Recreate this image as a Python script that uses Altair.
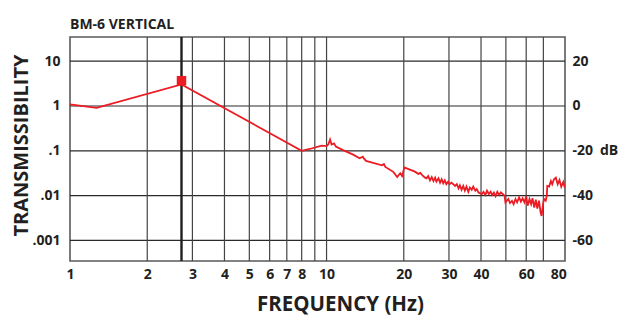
import altair as alt
import pandas as pd

# ---- data ----
freq_hz = [1.0, 1.27, 2.72, 8.0, 8.6, 9.57, 10.0, 10.15, 10.32, 10.46, 10.69, 10.87,
           11.65, 12.7, 13.45, 13.84, 14.0, 14.25, 16.45, 16.73, 16.95, 18.2, 18.85,
           19.37, 19.7, 20.1, 21.0, 22.0, 22.8, 23.2, 23.6, 24.2, 24.5, 24.9, 25.3,
           25.7, 26.1, 26.5, 26.8, 27.3, 27.7, 28.1, 28.5, 28.9, 29.3, 29.8, 30.2,
           30.7, 31.7, 32.2, 32.7, 33.1, 33.6, 34.1, 34.6, 35.1, 35.7, 36.2, 36.8,
           37.3, 38.0, 38.5, 39.1, 40.3, 40.9, 41.6, 42.2, 42.9, 43.6, 44.2, 44.9,
           45.6, 46.3, 47.1, 47.8, 48.6, 49.4, 49.8, 51.1, 51.9, 52.8, 53.6, 54.5,
           55.3, 56.3, 57.2, 58.1, 59.1, 60.0, 60.8, 61.8, 62.7, 63.5, 64.5, 65.4,
           66.3, 67.3, 68.3, 68.9, 69.8, 70.4, 71.5, 72.2, 72.5, 73.7, 74.9, 75.8,
           77.0, 78.3, 79.6, 80.9, 82.2, 83.7, 84.8]
response_db = [0.7, -0.8, 9.6, -20.0, -19.2, -17.7, -17.9, -17.2, -15.0, -17.2, -16.7, -18.1,
               -19.8, -21.7, -23.3, -22.6, -23.5, -24.5, -26.5, -25.9, -27.2, -29.4, -31.7,
               -30.0, -31.3, -27.4, -28.3, -29.2, -30.3, -29.9, -30.9, -32.0, -32.3, -31.3, -33.2,
               -31.7, -33.5, -32.0, -33.8, -32.3, -34.2, -32.7, -34.5, -33.2, -34.9, -33.8, -34.9,
               -34.2, -35.7, -34.9, -36.8, -35.4, -37.4, -35.7, -37.8, -36.0, -38.3, -36.4, -37.4,
               -36.0, -37.8, -37.1, -38.6, -39.3, -38.3, -39.7, -37.8, -39.3, -38.3, -39.7, -38.6,
               -40.3, -38.3, -39.7, -38.6, -39.3, -40.0, -43.0, -41.5, -43.3, -42.3, -43.8, -41.5,
               -43.0, -40.8, -42.7, -41.2, -43.0, -40.3, -44.5, -41.5, -43.8, -41.2, -45.3, -41.8,
               -45.8, -42.3, -47.6, -49.1, -43.8, -41.5, -42.3, -40.0, -35.7, -36.0, -33.5, -34.9,
               -32.7, -32.0, -34.9, -33.0, -36.0, -33.9, -36.4]

peak_freq = [2.72]
peak_db = [11.3]

x_label_values = [1, 2, 3, 4, 5, 6, 7, 8, 10, 20, 30, 40, 60, 80]
x_grid_values = [2, 3, 4, 5, 6, 7, 8, 9, 10, 20, 30, 40, 50, 60, 70]
db_ticks = [-60, -40, -20, 0, 20]
transmissibility_labels = [".001", ".01", ".1", "1", "10"]
db_labels = ["-60", "-40", "-20\u2002dB", "0", "20"]

X_DOMAIN = [1, 85]
Y_DOMAIN = [-69.2, 30.8]
FONT = "Open Sans"
INK = "#231f20"

curve = pd.DataFrame({"f": freq_hz, "db": response_db})
peak = pd.DataFrame({"f": peak_freq, "db": peak_db})
xgrid = pd.DataFrame({"f": x_grid_values})
ygrid = pd.DataFrame({"db": db_ticks})


def label_expr(values, labels):
    expr = "''"
    for v, l in zip(values, labels):
        expr = f"datum.value == {v} ? '{l}' : ({expr})"
    return expr


xscale = alt.Scale(type="log", domain=X_DOMAIN, nice=False)
yscale = alt.Scale(domain=Y_DOMAIN, nice=False, zero=False)

x_axis = alt.Axis(values=x_label_values, format="d", labelPadding=6,
                  title="FREQUENCY (Hz)", titleX=270, titleY=49,
                  titleAlign="center", titleBaseline="alphabetic",
                  titleFontSize=20.5)
x_enc = alt.X("f:Q", scale=xscale, axis=x_axis)

hgrid = alt.Chart(ygrid).mark_rule(color="#2a2a2a", strokeWidth=1.2).encode(
    y=alt.Y("db:Q", scale=yscale,
            axis=alt.Axis(orient="right", values=db_ticks,
                          labelExpr=label_expr(db_ticks, db_labels),
                          labelAlign="left", labelPadding=7, title=None))
)

vgrid = alt.Chart(xgrid).mark_rule(color="#444444", strokeWidth=1.2).encode(x=x_enc)

reson = alt.Chart(peak).mark_rule(color="#1e1e1e", strokeWidth=2.4).encode(x=x_enc)

line = alt.Chart(curve).mark_line(color="#ec1c24", strokeWidth=1.8).encode(
    x=x_enc,
    y=alt.Y("db:Q", scale=yscale,
            axis=alt.Axis(orient="left", values=db_ticks,
                          labelExpr=label_expr(db_ticks, transmissibility_labels),
                          labelPadding=10,
                          title="TRANSMISSIBILITY", titleX=-43, titleY=108,
                          titleAlign="center", titleBaseline="alphabetic",
                          titleAngle=270, titleFontSize=20)),
    order=alt.Order("f:Q"),
)

marker = alt.Chart(peak).mark_square(color="#ec1c24", size=90, opacity=1).encode(
    x=x_enc,
    y=alt.Y("db:Q", scale=yscale, axis=None),
)

chart = (
    alt.layer(hgrid, vgrid, reson, line, marker)
    .resolve_axis(y="independent")
    .properties(
        width=495, height=224,
        autosize=alt.AutoSizeParams(type="none"),
        padding={"left": 62, "top": 29, "right": 63, "bottom": 58},
        title=alt.TitleParams("BM-6 VERTICAL", anchor="start", frame="group",
                              fontSize=14, font=FONT, fontWeight="bold",
                              color=INK, offset=4),
    )
    .configure_view(stroke="#5a5a5a", strokeWidth=1.6)
    .configure_axis(
        grid=False, ticks=False, tickSize=0, domain=False,
        labelFont=FONT, labelFontWeight="bold", labelFontSize=14, labelColor=INK,
        titleFont=FONT, titleFontWeight="bold", titleColor=INK,
        labelFlush=False, labelOverlap=False,
    )
)

chart.save("out.html", embed_options={"renderer": "svg", "actions": False})
